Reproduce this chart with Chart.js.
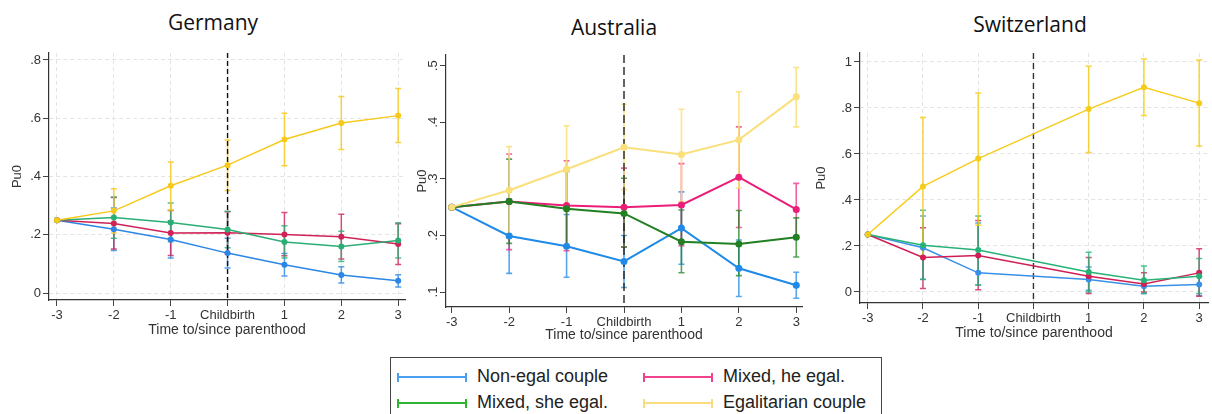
<!DOCTYPE html>
<html>
<head>
<meta charset="utf-8">
<script src="https://cdn.jsdelivr.net/npm/chart.js"></script>
<style>
  body { margin: 0; background: #fff; width: 1212px; height: 414px; overflow: hidden; position: relative; font-family: "Liberation Sans", Arial, sans-serif; }
  canvas { position: absolute; top: 0; }
  .title { position: absolute; font-family: "Open Sans", sans-serif; font-size: 21px; line-height: 22px; font-weight: 500; color: #111; transform: translateX(-50%); white-space: nowrap; }
  #legend { position: absolute; left: 390px; top: 357px; width: 492px; height: 70px; border: 1.5px solid #444; box-sizing: border-box; }
  .item { position: absolute; font-size: 18px; color: #222; white-space: nowrap; line-height: 20px; }
  .swatch { display: inline-block; width: 70px; height: 9px; margin-right: 10px; vertical-align: middle; box-sizing: border-box; }
</style>
</head>
<body>
<div class="title" style="left:213px;top:11px">Germany</div>
<div class="title" style="left:614px;top:16px">Australia</div>
<div class="title" style="left:1030px;top:13px">Switzerland</div>
<canvas id="deChart" width="410" height="340" style="left:0px"></canvas>
<canvas id="auChart" width="410" height="345" style="left:400px"></canvas>
<canvas id="chChart" width="402" height="343" style="left:810px"></canvas>
<div id="legend"></div>
<script>
var timePoints = [-3, -2, -1, 0, 1, 2, 3];
var timeLabels = ['-3', '-2', '-1', 'Childbirth', '1', '2', '3'];
var seriesNames = ['Non-egal couple', 'Mixed, he egal.', 'Mixed, she egal.', 'Egalitarian couple'];

// Germany
var deNonEgal   = [0.25, 0.219, 0.184, 0.137, 0.097, 0.062, 0.042];
var deNonEgalLo = [null, 0.146, 0.120, 0.086, 0.058, 0.034, 0.021];
var deNonEgalHi = [null, 0.292, 0.248, 0.188, 0.136, 0.090, 0.063];
var deHeEgal    = [0.25, 0.239, 0.206, 0.207, 0.201, 0.193, 0.168];
var deHeEgalLo  = [null, 0.151, 0.129, 0.135, 0.128, 0.117, 0.098];
var deHeEgalHi  = [null, 0.328, 0.283, 0.279, 0.276, 0.270, 0.238];
var deSheEgal   = [0.25, 0.259, 0.242, 0.218, 0.175, 0.160, 0.180];
var deSheEgalLo = [null, 0.188, 0.176, 0.155, 0.120, 0.108, 0.120];
var deSheEgalHi = [null, 0.330, 0.309, 0.281, 0.231, 0.212, 0.241];
var deEgal      = [0.25, 0.282, 0.368, 0.439, 0.527, 0.584, 0.609];
var deEgalLo    = [null, 0.206, 0.285, 0.352, 0.437, 0.493, 0.517];
var deEgalHi    = [null, 0.358, 0.450, 0.525, 0.617, 0.675, 0.702];

// Australia
var auNonEgal   = [0.25, 0.199, 0.181, 0.154, 0.213, 0.142, 0.112];
var auNonEgalLo = [null, 0.133, 0.126, 0.108, 0.149, 0.092, 0.089];
var auNonEgalHi = [null, 0.265, 0.237, 0.200, 0.277, 0.192, 0.135];
var auHeEgal    = [0.25, 0.260, 0.253, 0.250, 0.254, 0.303, 0.246];
var auHeEgalLo  = [null, 0.175, 0.173, 0.180, 0.182, 0.214, 0.200];
var auHeEgalHi  = [null, 0.344, 0.332, 0.319, 0.327, 0.392, 0.292];
var auSheEgal   = [0.25, 0.260, 0.247, 0.239, 0.189, 0.185, 0.197];
var auSheEgalLo = [null, 0.186, 0.180, 0.179, 0.134, 0.129, 0.162];
var auSheEgalHi = [null, 0.335, 0.313, 0.301, 0.245, 0.244, 0.231];
var auEgal      = [0.25, 0.280, 0.317, 0.356, 0.343, 0.369, 0.445];
var auEgalLo    = [null, 0.203, 0.243, 0.281, 0.260, 0.284, 0.392];
var auEgalHi    = [null, 0.357, 0.394, 0.432, 0.423, 0.454, 0.497];

// Switzerland (no estimate at childbirth)
var chNonEgal   = [0.25, 0.192, 0.083, null, 0.054, 0.025, 0.032];
var chNonEgalLo = [null, 0.055, 0.030, null, 0.007, -0.007, -0.015];
var chNonEgalHi = [null, 0.330, 0.300, null, 0.109, 0.051, 0.068];
var chHeEgal    = [0.25, 0.150, 0.158, null, 0.068, 0.035, 0.083];
var chHeEgalLo  = [null, 0.015, 0.010, null, -0.007, 0.000, -0.019];
var chHeEgalHi  = [null, 0.279, 0.311, null, 0.150, 0.083, 0.188];
var chSheEgal   = [0.25, 0.203, 0.182, null, 0.087, 0.051, 0.068];
var chSheEgalLo = [null, 0.054, 0.030, null, 0.000, -0.007, -0.007];
var chSheEgalHi = [null, 0.355, 0.330, null, 0.173, 0.113, 0.145];
var chEgal      = [0.25, 0.459, 0.580, null, 0.795, 0.890, 0.821];
var chEgalLo    = [null, 0.155, 0.290, null, 0.606, 0.767, 0.635];
var chEgalHi    = [null, 0.759, 0.865, null, 0.981, 1.013, 1.009];

var deYTicks = [0, 0.2, 0.4, 0.6, 0.8];
var deYLabels = ['0', '.2', '.4', '.6', '.8'];
var auYTicks = [0.1, 0.2, 0.3, 0.4, 0.5];
var auYLabels = ['.1', '.2', '.3', '.4', '.5'];
var chYTicks = [0, 0.2, 0.4, 0.6, 0.8, 1];
var chYLabels = ['0', '.2', '.4', '.6', '.8', '1'];

var legendColors = ['#4a9ff0', '#f0438c', '#2fb52f', '#f9dc80'];
var axisFont = '"Liberation Sans", Arial, sans-serif';

// error bars drawn under the lines, last series on top
var errorBars = {
  id: 'errorBars',
  beforeDatasetsDraw: function (chart) {
    var ctx = chart.ctx, xs = chart.scales.x, ys = chart.scales.y;
    var list = chart.data.datasets;
    ctx.save();
    for (var k = list.length - 1; k >= 0; k--) {
      var ds = list[k];
      ctx.strokeStyle = ds.errColor;
      ctx.lineWidth = ds.errWidth;
      for (var i = 0; i < timePoints.length; i++) {
        if (ds.errLo[i] == null) continue;
        var x = xs.getPixelForValue(timePoints[i]);
        var y1 = ys.getPixelForValue(ds.errLo[i]);
        var y2 = ys.getPixelForValue(ds.errHi[i]);
        ctx.beginPath();
        ctx.moveTo(x, y1); ctx.lineTo(x, y2);
        ctx.moveTo(x - 3, y1); ctx.lineTo(x + 3, y1);
        ctx.moveTo(x - 3, y2); ctx.lineTo(x + 3, y2);
        ctx.stroke();
      }
    }
    ctx.restore();
  }
};

// dashed line at childbirth
var birthLine = {
  id: 'birthLine',
  beforeDatasetsDraw: function (chart, args, opts) {
    var ctx = chart.ctx, a = chart.chartArea;
    var x = chart.scales.x.getPixelForValue(0);
    ctx.save();
    ctx.strokeStyle = opts.color;
    ctx.lineWidth = 1.4;
    ctx.setLineDash(opts.dash);
    ctx.beginPath();
    ctx.moveTo(x, a.top);
    ctx.lineTo(x, a.bottom);
    ctx.stroke();
    ctx.restore();
  }
};

// rotated y labels (Australia)
var rotatedY = {
  id: 'rotatedY',
  afterDraw: function (chart, args, opts) {
    if (!opts.labels) return;
    var ctx = chart.ctx, ys = chart.scales.y;
    ctx.save();
    ctx.fillStyle = '#333';
    ctx.font = '13px ' + axisFont;
    ctx.textAlign = 'center';
    ctx.textBaseline = 'middle';
    for (var i = 0; i < opts.ticks.length; i++) {
      ctx.save();
      ctx.translate(ys.right - 13, ys.getPixelForValue(opts.ticks[i]));
      ctx.rotate(-Math.PI / 2);
      ctx.fillText(opts.labels[i], 0, 0);
      ctx.restore();
    }
    ctx.restore();
  }
};

function panel(id, o) {
  var ctx = document.getElementById(id).getContext('2d');
  var datasets = o.series.map(function (s, k) {
    return {
      label: seriesNames[k],
      data: timePoints.map(function (t, i) { return { x: t, y: s[0][i] }; }),
      errLo: s[1],
      errHi: s[2],
      errColor: o.errColors[k],
      errWidth: o.errWidth,
      borderColor: o.colors[k],
      backgroundColor: o.colors[k],
      pointBackgroundColor: o.colors[k],
      borderWidth: o.lineWidth,
      pointRadius: o.pointRadius,
      pointBorderWidth: 0,
      spanGaps: true,
      tension: 0
    };
  });
  // Stata draws the last series on top
  datasets.reverse();
  var yt = o.yTicks, yl = o.yLabels;
  return new Chart(ctx, {
    type: 'line',
    data: { datasets: datasets },
    options: {
      responsive: false,
      animation: false,
      devicePixelRatio: 1,
      layout: { padding: { top: o.top, right: o.right, left: 0, bottom: 0 } },
      plugins: {
        legend: { display: false },
        tooltip: { enabled: false },
        birthLine: { color: o.birthColor, dash: o.birthDash },
        rotatedY: o.rotated ? { labels: yl, ticks: yt } : {}
      },
      scales: {
        x: {
          type: 'linear',
          min: o.xMin, max: o.xMax,
          afterBuildTicks: function (s) { s.ticks = timePoints.map(function (v) { return { value: v }; }); },
          afterFit: function (s) { s.height = o.xHeight; },
          ticks: {
            autoSkip: false, maxRotation: 0, padding: 2, color: '#333',
            font: { family: axisFont, size: 13 },
            callback: function (v) { return timeLabels[timePoints.indexOf(v)]; }
          },
          grid: { drawOnChartArea: o.grid, color: '#e4e4e4', lineWidth: 1, tickColor: '#444', tickLength: 6 },
          border: { color: '#333', width: 1.2, dash: [4, 3] },
          title: {
            display: true, text: 'Time to/since parenthood', color: '#333',
            font: { family: axisFont, size: 14 },
            padding: { top: 0, bottom: o.xTitlePad }
          }
        },
        y: {
          type: 'linear',
          min: o.yMin, max: o.yMax,
          afterBuildTicks: function (s) { s.ticks = yt.map(function (v) { return { value: v }; }); },
          afterFit: function (s) { s.width = o.yWidth; },
          ticks: {
            padding: 2, color: o.rotated ? 'rgba(0,0,0,0)' : '#333',
            font: { family: axisFont, size: 13 },
            callback: function (v) { return yl[yt.indexOf(v)]; }
          },
          grid: { drawOnChartArea: o.grid, color: '#e4e4e4', lineWidth: 1, tickColor: '#444', tickLength: 6 },
          border: { color: '#333', width: 1.2, dash: [4, 3] },
          title: {
            display: true, text: 'Pu0', color: '#333',
            font: { family: axisFont, size: 13 },
            padding: { top: o.yTitlePad, bottom: 0 }
          }
        }
      }
    },
    plugins: [errorBars, birthLine, rotatedY]
  });
}

panel('deChart', {
  series: [[deNonEgal, deNonEgalLo, deNonEgalHi], [deHeEgal, deHeEgalLo, deHeEgalHi],
           [deSheEgal, deSheEgalLo, deSheEgalHi], [deEgal, deEgalLo, deEgalHi]],
  colors: ['#2b86e6', '#cf2257', '#2aae74', '#f7c91c'],
  errColors: ['rgba(43,134,230,0.8)', 'rgba(207,34,87,0.8)', 'rgba(42,174,116,0.8)', 'rgba(247,201,28,0.85)'],
  lineWidth: 1.5, pointRadius: 3, errWidth: 1.5,
  xMin: -3.14, xMax: 3.12, yMin: -0.024, yMax: 0.824,
  yTicks: deYTicks, yLabels: deYLabels,
  top: 53, right: 5, xHeight: 40, yWidth: 49, yTitlePad: 10, xTitlePad: 1,
  grid: true, birthColor: '#111', birthDash: [5, 3]
});

panel('auChart', {
  series: [[auNonEgal, auNonEgalLo, auNonEgalHi], [auHeEgal, auHeEgalLo, auHeEgalHi],
           [auSheEgal, auSheEgalLo, auSheEgalHi], [auEgal, auEgalLo, auEgalHi]],
  colors: ['#1f8ae8', '#ea1e78', '#228022', '#f9e07c'],
  errColors: ['rgba(31,138,232,0.75)', 'rgba(234,30,120,0.7)', 'rgba(34,128,34,0.75)', 'rgba(249,224,124,0.9)'],
  lineWidth: 2, pointRadius: 3.5, errWidth: 1.6,
  xMin: -3.1, xMax: 3.1, yMin: 0.0735, yMax: 0.519,
  yTicks: auYTicks, yLabels: auYLabels, rotated: true,
  top: 55, right: 8, xHeight: 38, yWidth: 46, yTitlePad: 15, xTitlePad: 1.5,
  grid: false, birthColor: '#222', birthDash: [8, 4]
});

panel('chChart', {
  series: [[chNonEgal, chNonEgalLo, chNonEgalHi], [chHeEgal, chHeEgalLo, chHeEgalHi],
           [chSheEgal, chSheEgalLo, chSheEgalHi], [chEgal, chEgalLo, chEgalHi]],
  colors: ['#3a90e6', '#cf1f55', '#26b276', '#f6cc1c'],
  errColors: ['rgba(58,144,230,0.8)', 'rgba(207,31,85,0.8)', 'rgba(38,178,118,0.8)', 'rgba(246,204,28,0.85)'],
  lineWidth: 1.5, pointRadius: 3, errWidth: 1.5,
  xMin: -3.14, xMax: 3.16, yMin: -0.048, yMax: 1.039,
  yTicks: chYTicks, yLabels: chYLabels,
  top: 53, right: 0, xHeight: 40, yWidth: 50, yTitlePad: 4, xTitlePad: 1.6,
  grid: true, birthColor: '#333', birthDash: [6, 4]
});

// legend
var legend = document.getElementById('legend');
var legendPos = [[6, 8], [252, 8], [6, 34], [252, 34]];
seriesNames.forEach(function (name, k) {
  var c = legendColors[k];
  var item = document.createElement('div');
  item.className = 'item';
  item.style.left = legendPos[k][0] + 'px';
  item.style.top = legendPos[k][1] + 'px';
  var sw = document.createElement('span');
  sw.className = 'swatch';
  sw.style.borderLeft = '2px solid ' + c;
  sw.style.borderRight = '2px solid ' + c;
  sw.style.background = 'linear-gradient(' + c + ',' + c + ') center / 100% 2px no-repeat';
  item.appendChild(sw);
  item.appendChild(document.createTextNode(name));
  legend.appendChild(item);
});
</script>
</body>
</html>
